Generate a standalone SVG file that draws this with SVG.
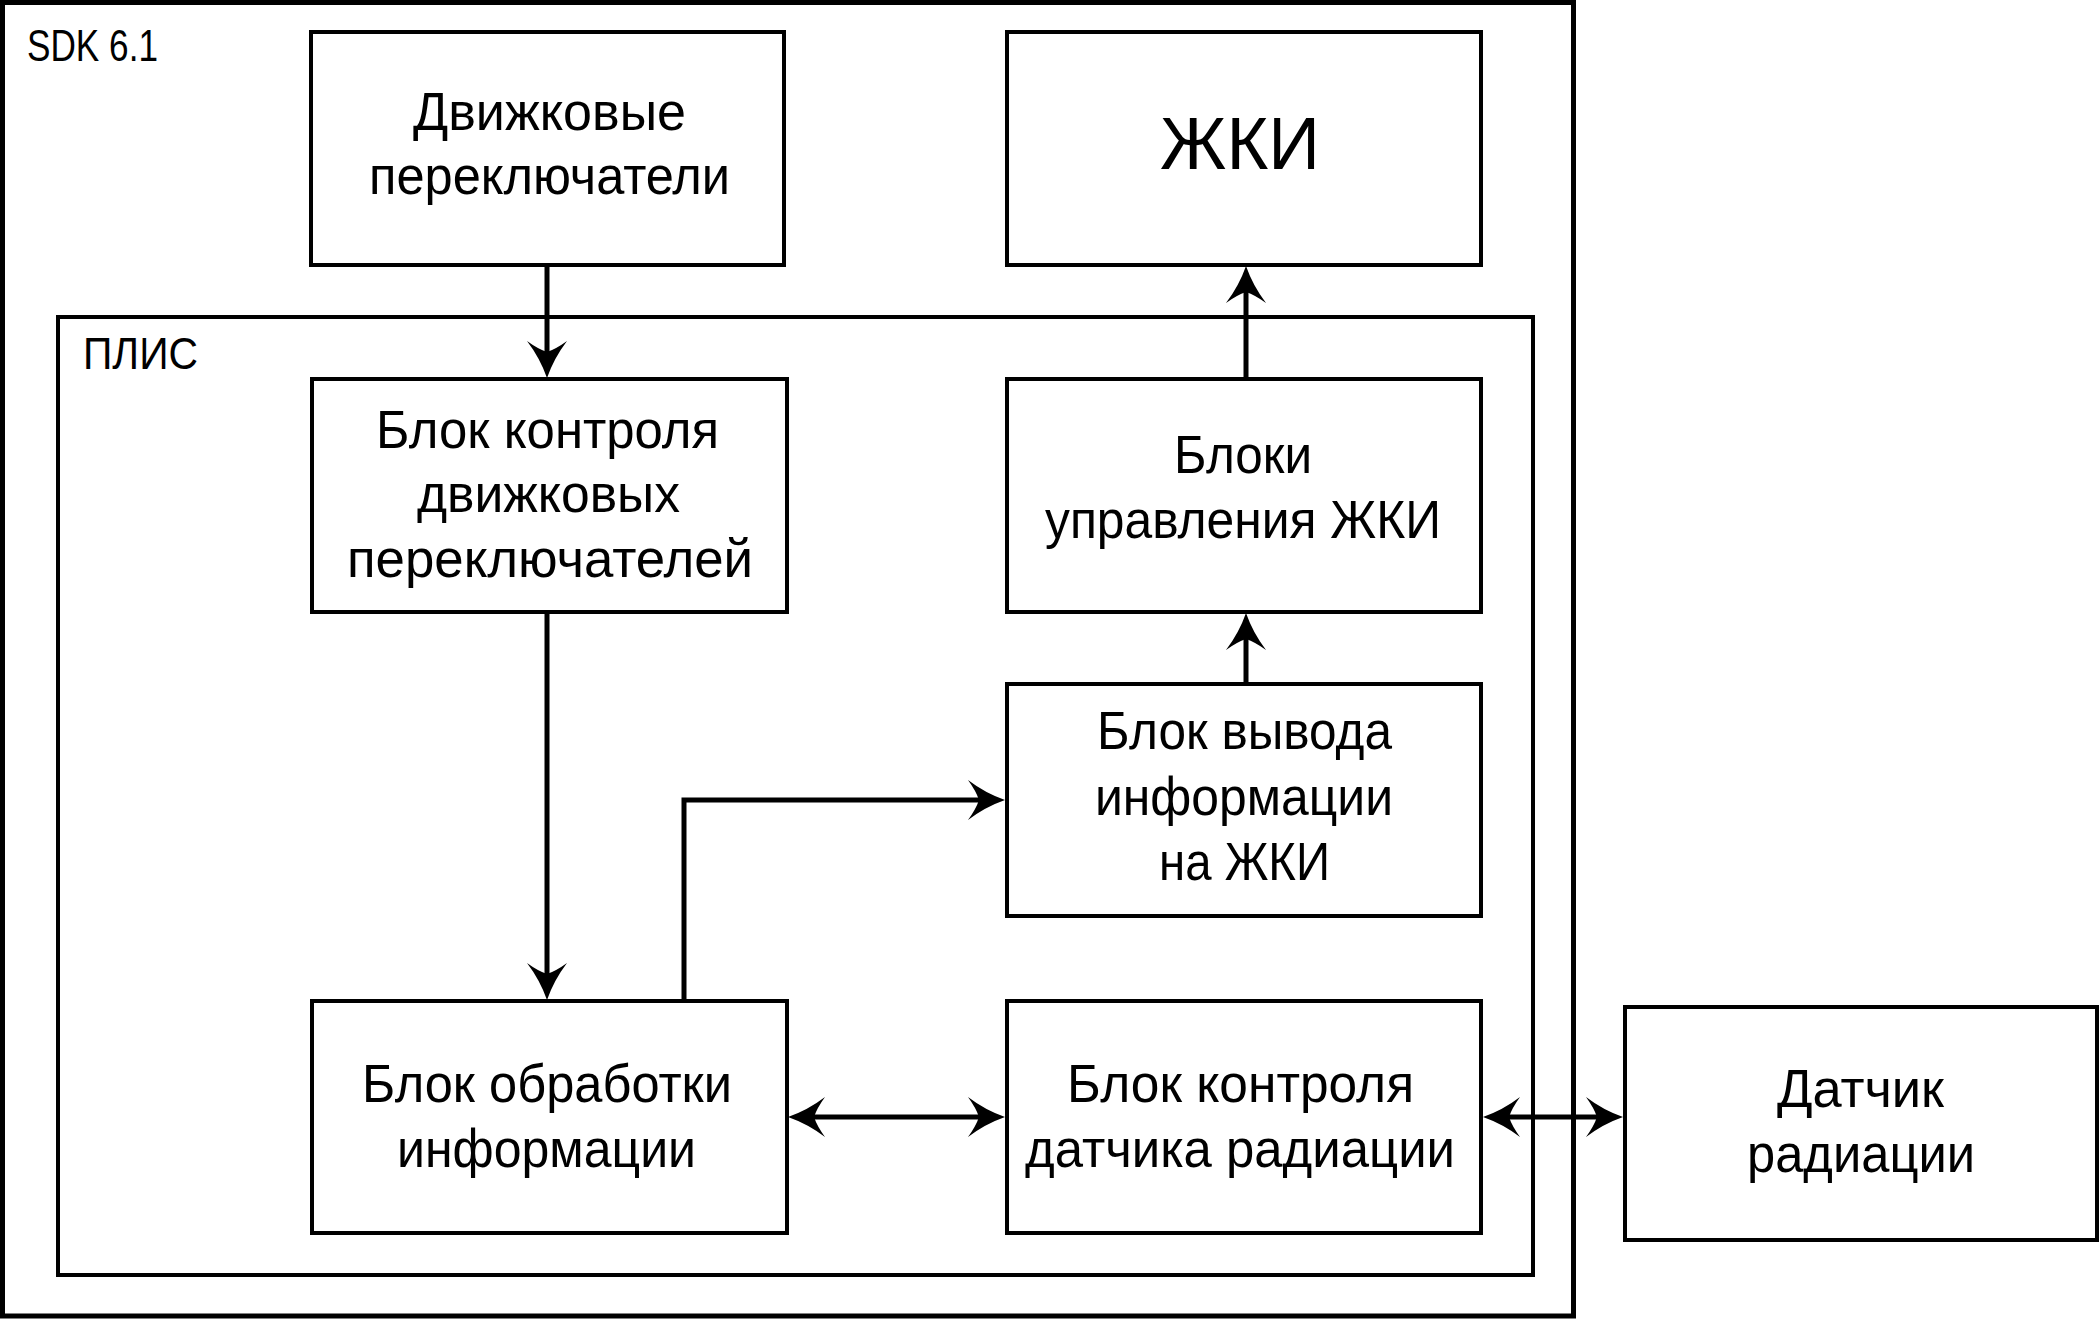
<svg xmlns="http://www.w3.org/2000/svg" width="2100" height="1319" viewBox="0 0 2100 1319">
<style>
  .box { fill: none; stroke: #000; stroke-width: 4; }
  .frame { fill: none; stroke: #000; stroke-width: 5; }
  .lbl { font-family: "Liberation Sans", "DejaVu Sans", sans-serif; font-size: 53px; fill: #000; }
  .big { font-size: 74px; }
  .cap { font-size: 45px; }
  .conn { fill: none; stroke: #000; stroke-width: 5; }
</style>
<defs>
  <marker id="ah" markerUnits="userSpaceOnUse" viewBox="-40 -24 44 48" markerWidth="44" markerHeight="48" refX="-26" refY="0" orient="auto-start-reverse">
    <path d="M0,0 Q-20,-7 -37,-20 Q-29,-9 -26,0 Q-29,9 -37,20 Q-20,7 0,0 Z" fill="#000"/>
  </marker>
</defs>
<rect width="2100" height="1319" fill="#fff"/>

<g id="sdk">
  <rect class="frame" x="2.5" y="2.5" width="1571" height="1313.5"/>
  <text class="lbl cap" x="27" y="61" textLength="131" lengthAdjust="spacingAndGlyphs">SDK 6.1</text>
</g>
<g id="plis">
  <rect class="box" x="58" y="317" width="1475" height="958"/>
  <text class="lbl cap" x="83" y="369" textLength="115" lengthAdjust="spacingAndGlyphs">ПЛИС</text>
</g>

<g id="switches">
  <rect class="box" x="311" y="32" width="473" height="233"/>
  <text class="lbl" x="413" y="130" textLength="273" lengthAdjust="spacingAndGlyphs">Движковые</text>
  <text class="lbl" x="369" y="194" textLength="361" lengthAdjust="spacingAndGlyphs">переключатели</text>
</g>
<g id="lcd">
  <rect class="box" x="1007" y="32" width="474" height="233"/>
  <text class="lbl big" x="1160" y="169" textLength="160" lengthAdjust="spacingAndGlyphs">ЖКИ</text>
</g>
<g id="switch-ctrl">
  <rect class="box" x="312" y="379" width="475" height="233"/>
  <text class="lbl" x="376" y="448" textLength="343" lengthAdjust="spacingAndGlyphs">Блок контроля</text>
  <text class="lbl" x="417" y="512" textLength="263" lengthAdjust="spacingAndGlyphs">движковых</text>
  <text class="lbl" x="347" y="577" textLength="406" lengthAdjust="spacingAndGlyphs">переключателей</text>
</g>
<g id="lcd-ctrl">
  <rect class="box" x="1007" y="379" width="474" height="233"/>
  <text class="lbl" x="1174" y="473" textLength="138" lengthAdjust="spacingAndGlyphs">Блоки</text>
  <text class="lbl" x="1045" y="538" textLength="396" lengthAdjust="spacingAndGlyphs">управления ЖКИ</text>
</g>
<g id="lcd-out">
  <rect class="box" x="1007" y="684" width="474" height="232"/>
  <text class="lbl" x="1097" y="749" textLength="295" lengthAdjust="spacingAndGlyphs">Блок вывода</text>
  <text class="lbl" x="1095" y="815" textLength="298" lengthAdjust="spacingAndGlyphs">информации</text>
  <text class="lbl" x="1159" y="880" textLength="171" lengthAdjust="spacingAndGlyphs">на ЖКИ</text>
</g>
<g id="processing">
  <rect class="box" x="312" y="1001" width="475" height="232"/>
  <text class="lbl" x="362" y="1102" textLength="370" lengthAdjust="spacingAndGlyphs">Блок обработки</text>
  <text class="lbl" x="397" y="1167" textLength="299" lengthAdjust="spacingAndGlyphs">информации</text>
</g>
<g id="sensor-ctrl">
  <rect class="box" x="1007" y="1001" width="474" height="232"/>
  <text class="lbl" x="1067" y="1102" textLength="347" lengthAdjust="spacingAndGlyphs">Блок контроля</text>
  <text class="lbl" x="1025" y="1167" textLength="430" lengthAdjust="spacingAndGlyphs">датчика радиации</text>
</g>
<g id="sensor">
  <rect class="box" x="1625" y="1007" width="472" height="233"/>
  <text class="lbl" x="1777" y="1107" textLength="167" lengthAdjust="spacingAndGlyphs">Датчик</text>
  <text class="lbl" x="1747" y="1172" textLength="228" lengthAdjust="spacingAndGlyphs">радиации</text>
</g>

<g id="connectors">
  <path class="conn" d="M547,265 L547,352" marker-end="url(#ah)"/>
  <path class="conn" d="M547,612 L547,974" marker-end="url(#ah)"/>
  <path class="conn" d="M684,1001 L684,800 L979,800" marker-end="url(#ah)"/>
  <path class="conn" d="M1246,684 L1246,639" marker-end="url(#ah)"/>
  <path class="conn" d="M1246,379 L1246,292" marker-end="url(#ah)"/>
  <path class="conn" d="M814,1117 L979,1117" marker-start="url(#ah)" marker-end="url(#ah)"/>
  <path class="conn" d="M1509,1117 L1597,1117" marker-start="url(#ah)" marker-end="url(#ah)"/>
</g>
</svg>
